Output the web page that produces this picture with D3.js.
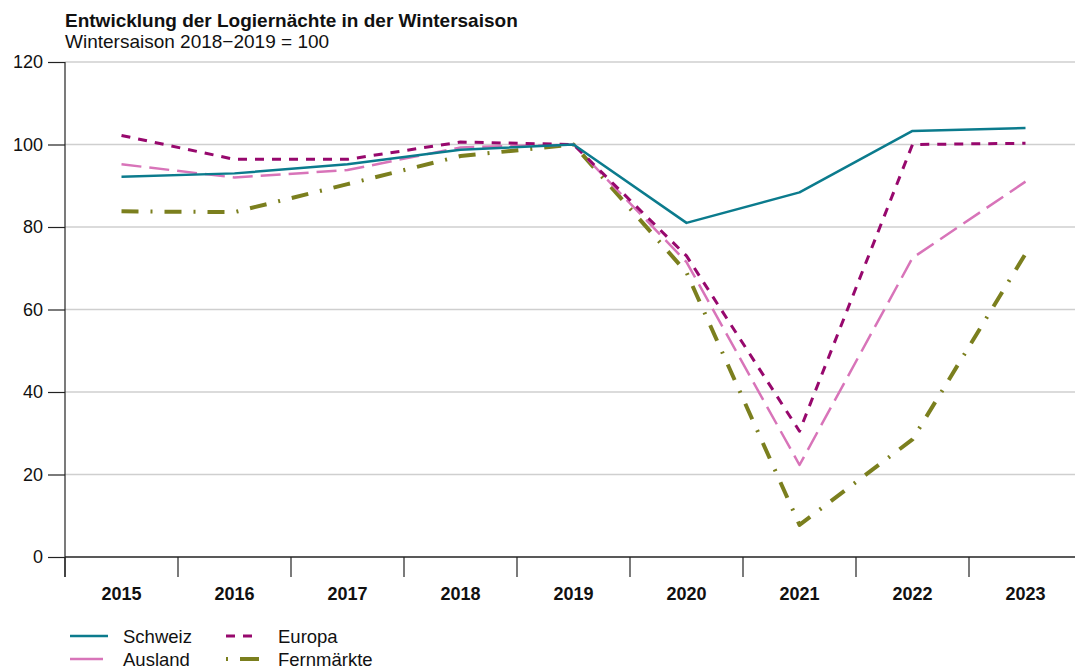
<!DOCTYPE html>
<html>
<head>
<meta charset="utf-8">
<script src="https://cdn.jsdelivr.net/npm/d3@7"></script>
<style>
  body { margin: 0; background: #fff; }
  text { font-family: "Liberation Sans", Arial, sans-serif; }
</style>
</head>
<body>
<div id="chart"></div>
<script>
// Data
var years = ["2015", "2016", "2017", "2018", "2019", "2020", "2021", "2022", "2023"];
var schweiz    = [92.2, 93.0, 95.2, 98.7, 100, 81.0, 88.4, 103.3, 104.0];
var europa     = [102.2, 96.4, 96.4, 100.6, 100, 73.0, 30.5, 100.0, 100.3];
var ausland    = [95.2, 92.0, 93.8, 99.3, 100, 71.5, 22.3, 72.5, 91.0];
var fernmaerkte = [83.8, 83.6, 90.4, 97.2, 100, 69.0, 7.8, 28.5, 73.5];
var yTicks = [0, 20, 40, 60, 80, 100, 120];

var series = [
    {name: "Schweiz", values: schweiz, color: "#0b7b8d", width: 2.5, dash: null},
    {name: "Ausland", values: ausland, color: "#d874b9", width: 2.5, dash: "20,8"},
    {name: "Europa", values: europa, color: "#97086d", width: 3, dash: "9,8"},
    {name: "Fernmärkte", values: fernmaerkte, color: "#7b7f1e", width: 4, dash: "17,12,2,12"}
];

var width = 1075, height = 669;
var margin = {top: 62, left: 65, right: 1082, bottom: 557};

var svg = d3.select("#chart")
    .append("svg")
    .attr("width", width)
    .attr("height", height);

var x = d3.scaleBand()
    .domain(years)
    .range([margin.left, margin.right]);

var y = d3.scaleLinear()
    .domain([0, 120])
    .range([margin.bottom, margin.top]);

// Title
svg.append("text")
    .attr("x", 65).attr("y", 27)
    .attr("font-size", 19).attr("font-weight", "bold")
    .attr("fill", "#111")
    .text("Entwicklung der Logiernächte in der Wintersaison");
svg.append("text")
    .attr("x", 65).attr("y", 48)
    .attr("font-size", 19)
    .attr("fill", "#111")
    .text("Wintersaison 2018\u22122019 = 100");

// Gridlines
svg.append("g").selectAll("line")
    .data(yTicks.filter(function(d) { return d > 0; }))
    .join("line")
    .attr("x1", margin.left).attr("x2", width)
    .attr("y1", function(d) { return y(d); })
    .attr("y2", function(d) { return y(d); })
    .attr("stroke", "#cfcfcf")
    .attr("stroke-width", 1.3);

// Y axis
var yAxis = svg.append("g")
    .attr("transform", "translate(" + margin.left + ",0)")
    .call(d3.axisLeft(y).tickValues(yTicks).tickSize(17).tickPadding(5).tickSizeOuter(0));
yAxis.select(".domain").remove();
yAxis.selectAll("line").attr("stroke", "#222").attr("stroke-width", 1.2);
yAxis.selectAll("text").attr("font-size", 18).attr("fill", "#111")
    .attr("font-family", "Liberation Sans, Arial, sans-serif");
svg.append("line")
    .attr("x1", margin.left).attr("x2", margin.left)
    .attr("y1", y(120)).attr("y2", y(0) + 20)
    .attr("stroke", "#222").attr("stroke-width", 1.2);

// X axis
svg.append("line")
    .attr("x1", margin.left).attr("x2", width)
    .attr("y1", y(0)).attr("y2", y(0))
    .attr("stroke", "#222").attr("stroke-width", 1.5);
svg.append("g").selectAll("line")
    .data(years)
    .join("line")
    .attr("x1", function(d) { return x(d); })
    .attr("x2", function(d) { return x(d); })
    .attr("y1", y(0)).attr("y2", y(0) + 20)
    .attr("stroke", "#222").attr("stroke-width", 1.2);
svg.append("g").selectAll("text")
    .data(years)
    .join("text")
    .attr("x", function(d) { return x(d) + x.bandwidth() / 2; })
    .attr("y", y(0) + 43)
    .attr("text-anchor", "middle")
    .attr("font-size", 18).attr("font-weight", "bold")
    .attr("fill", "#111")
    .text(function(d) { return d; });

// Lines
var line = d3.line()
    .x(function(d, i) { return x(years[i]) + x.bandwidth() / 2; })
    .y(function(d) { return y(d); });

var drawOrder = [series[3], series[1], series[2], series[0]];
svg.append("g").selectAll("path")
    .data(drawOrder)
    .join("path")
    .attr("d", function(s) { return line(s.values); })
    .attr("fill", "none")
    .attr("stroke", function(s) { return s.color; })
    .attr("stroke-width", function(s) { return s.width; })
    .attr("stroke-dasharray", function(s) { return s.dash; })
    .attr("stroke-linejoin", "round");

// Legend
var legendPos = [
    {s: series[0], x: 70, y: 636, len: 38},
    {s: series[1], x: 70, y: 659, len: 33},
    {s: series[2], x: 226, y: 636, len: 33},
    {s: series[3], x: 226, y: 659, len: 33}
];
var lg = svg.append("g").selectAll("g")
    .data(legendPos)
    .join("g")
    .attr("transform", function(d) { return "translate(" + d.x + "," + d.y + ")"; });
lg.append("line")
    .attr("x1", 0).attr("x2", function(d) { return d.len; })
    .attr("y1", 0).attr("y2", 0)
    .attr("stroke", function(d) { return d.s.color; })
    .attr("stroke-width", function(d) { return d.s.width; })
    .attr("stroke-dasharray", function(d) {
        if (d.s.name === "Europa") return "9,8";
        if (d.s.name === "Fernmärkte") return "2,12,19,10";
        return null;
    });
lg.append("text")
    .attr("x", function(d) { return d.x < 100 ? 53 : 52; })
    .attr("y", 6.5)
    .attr("font-size", 18.5).attr("fill", "#111")
    .text(function(d) { return d.s.name; });
</script>
</body>
</html>
